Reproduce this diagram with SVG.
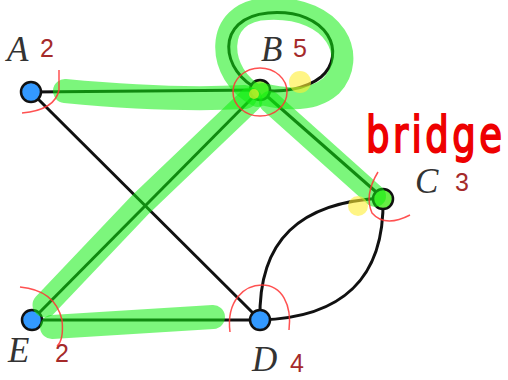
<svg xmlns="http://www.w3.org/2000/svg" width="508" height="380" viewBox="0 0 508 380">
<style>
.edge{fill:none;stroke:#111;stroke-width:3}
.node{stroke:#111;stroke-width:2.5}
.lbl{font-family:"Liberation Serif",serif;font-style:italic;font-size:35px;fill:#333}
.deg{font-family:"Liberation Sans",sans-serif;font-size:25px;fill:#a52a2a}
.hl{fill:none;stroke:#11ee11;stroke-opacity:0.55;stroke-linecap:round;stroke-linejoin:round}
.arc{fill:none;stroke:#ff3333;stroke-opacity:0.85;stroke-width:1.5}
.dot{fill:#ffee33;fill-opacity:0.6}
</style>
<rect width="508" height="380" fill="#fff"/>
<g id="connectors">
<path class="edge" d="M31,92 L260,90"/>
<path class="edge" d="M31,92 L260,320"/>
<path class="edge" d="M260,90 L32,320"/>
<path class="edge" d="M260,90 L383,198"/>
<path class="edge" d="M32,320 L260,320"/>
<path class="edge" d="M260,320 C258,240 300,202 383,198"/>
<path class="edge" d="M260,320 C340,318 385,280 383,198"/>
<path class="edge" d="M260,90 C220,72 214,18 268,13 C330,8 347,55 321,77 C306,89 282,93 260,90"/>
</g>
<g id="node-A"><circle class="node" cx="31" cy="92" r="10" fill="#3399ff"/><text class="lbl" x="7" y="61">A</text><text class="deg" x="40" y="57">2</text></g>
<g id="node-B"><circle class="node" cx="260" cy="90" r="10" fill="#88ee44"/><text class="lbl" x="261" y="61">B</text><text class="deg" x="293" y="57">5</text></g>
<g id="node-C"><circle class="node" cx="383" cy="199" r="10" fill="#66ee44"/><text class="lbl" x="415" y="193">C</text><text class="deg" x="455" y="191">3</text></g>
<g id="node-D"><circle class="node" cx="260" cy="320" r="10" fill="#3399ff"/><text class="lbl" x="252" y="371">D</text><text class="deg" x="290" y="372">4</text></g>
<g id="node-E"><circle class="node" cx="32" cy="320" r="10" fill="#3399ff"/><text class="lbl" x="8" y="362">E</text><text class="deg" x="55" y="362">2</text></g>
<g id="highlights">
<path class="hl" stroke-width="24" d="M65,91 Q170,101 245,97"/>
<path class="hl" stroke-width="25" d="M250,100 L140,205 L45,305"/>
<path class="hl" stroke-width="22" d="M270,102 L375,196"/>
<path class="hl" stroke-width="24" d="M52,327 Q130,322 213,317"/>
<path class="hl" stroke-width="22" d="M258,96 C216,76 212,10 268,9 C337,6 358,58 331,86 C315,100 290,101 262,94"/>
</g>
<g id="marks">
<path class="arc" d="M59,70 L59,90 Q55,110 22,113"/>
<ellipse class="arc" cx="260" cy="92" rx="27" ry="24"/>
<path class="arc" d="M378,172 Q364,195 372,213 Q385,228 410,215"/>
<path class="arc" d="M230,332 C226,300 245,285 262,285 C282,285 292,305 289,330"/>
<path class="arc" d="M20,287 Q55,290 62,320 Q64,340 57,346"/>
<circle class="dot" cx="300" cy="82" r="11"/>
<circle class="dot" cx="358" cy="206" r="10"/>
<circle class="dot" cx="254" cy="94" r="5"/>
<text x="366" y="152" transform="translate(0,-50) scale(1,1.33)" font-family="'DejaVu Sans',sans-serif" font-size="37" fill="#ee0000" stroke="#ee0000" stroke-width="1.5" textLength="136">bridge</text>
</g>
</svg>
